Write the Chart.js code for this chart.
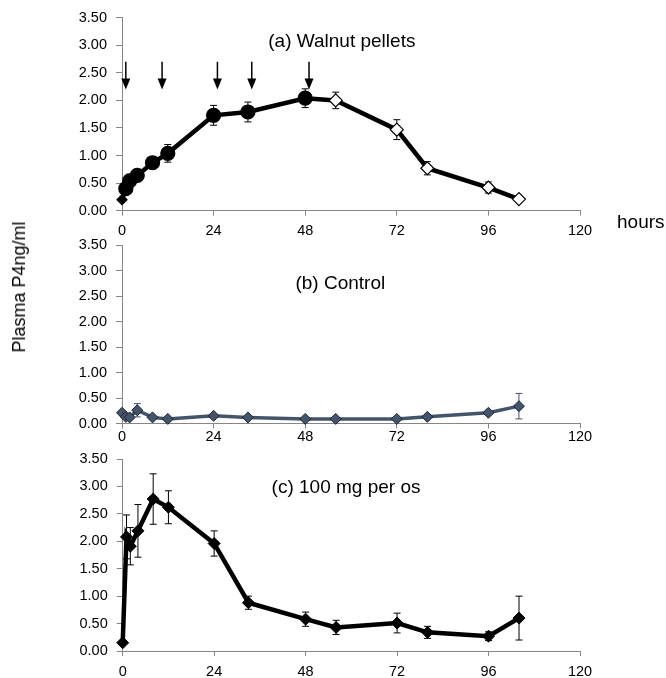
<!DOCTYPE html>
<html>
<head>
<meta charset="utf-8">
<script src="https://cdn.jsdelivr.net/npm/chart.js@4.4.0/dist/chart.umd.min.js"></script>
<style>
  body { margin: 0; background: #fff; }
  #wrap { position: relative; width: 666px; height: 678px; }
  #wrap canvas { position: absolute; left: 0; top: 0; }
  .lbl { position: absolute; font-family: "Liberation Sans", Arial, sans-serif; color: #000; white-space: nowrap; line-height: 1; }
</style>
</head>
<body>
<div id="wrap">
  <canvas id="chart-a" width="666" height="678"></canvas>
  <canvas id="chart-b" width="666" height="678"></canvas>
  <canvas id="chart-c" width="666" height="678"></canvas>
  <div class="lbl" id="ylabel" style="font-size:18px; left:18.5px; top:287px; transform:translate(-50%,-50%) rotate(-90deg);">Plasma P4ng/ml</div>
  <div class="lbl" style="font-size:19px; left:617px; top:212px;">hours</div>
</div>
<script>
// sampling times (hours) shared by the three panels
const hours = [0, 1, 2, 4, 8, 12, 24, 33, 48, 56, 72, 80, 96, 104];

// (a) walnut pellets
const walnutP4 = [0.20, 0.40, 0.54, 0.64, 0.87, 1.04, 1.73, 1.79, 2.04, 2.00, 1.47, 0.77, 0.42, 0.21];
const walnutSem = [0.02, 0.06, 0.12, 0.08, 0.07, 0.16, 0.18, 0.18, 0.17, 0.15, 0.18, 0.12, 0.10, 0.03];
// times of pellet feeding (arrows)
const pelletHours = [1, 10.5, 25, 34, 49];

// (b) control
const controlP4 = [0.21, 0.13, 0.12, 0.26, 0.12, 0.09, 0.15, 0.12, 0.09, 0.09, 0.09, 0.13, 0.21, 0.34];
const controlSem = [0.03, 0.03, 0.03, 0.13, 0.03, 0.02, 0.03, 0.03, 0.02, 0.02, 0.02, 0.03, 0.04, 0.25];

// (c) 100 mg per os
const oralP4 = [0.15, 2.08, 1.91, 2.19, 2.77, 2.62, 1.96, 0.88, 0.58, 0.43, 0.51, 0.34, 0.27, 0.60];
const oralSem = [0.02, 0.40, 0.34, 0.48, 0.46, 0.30, 0.23, 0.12, 0.13, 0.13, 0.18, 0.11, 0.08, 0.40];

const xTicks = [0, 24, 48, 72, 96, 120];
const yTicks = [0, 0.5, 1, 1.5, 2, 2.5, 3, 3.5];
const panelTitles = ['(a) Walnut pellets', '(b) Control', '(c) 100 mg per os'];

const FONT = '"Liberation Sans", Arial, sans-serif';
const AXIS = '#868686';
const X_AXIS_H = 27;

const errorBars = {
  id: 'errorBars',
  beforeDatasetsDraw(chart, args, opts) {
    if (!opts.sem) return;
    const ctx = chart.ctx, y = chart.scales.y;
    const pts = chart.getDatasetMeta(0).data;
    ctx.save();
    ctx.strokeStyle = opts.color;
    ctx.lineWidth = 1;
    pts.forEach((p, i) => {
      const v = chart.data.datasets[0].data[i].y, e = opts.sem[i];
      const top = y.getPixelForValue(v + e), bot = y.getPixelForValue(v - e);
      ctx.beginPath();
      ctx.moveTo(p.x, top); ctx.lineTo(p.x, bot);
      ctx.moveTo(p.x - 3.5, top); ctx.lineTo(p.x + 3.5, top);
      ctx.moveTo(p.x - 3.5, bot); ctx.lineTo(p.x + 3.5, bot);
      ctx.stroke();
    });
    ctx.restore();
  }
};

const arrows = {
  id: 'arrows',
  afterDatasetsDraw(chart, args, opts) {
    if (!opts.at) return;
    const ctx = chart.ctx, xs = chart.scales.x, ys = chart.scales.y;
    ctx.save();
    ctx.strokeStyle = '#000';
    ctx.fillStyle = '#000';
    ctx.lineWidth = 1.5;
    opts.at.forEach(h => {
      const x = xs.getPixelForValue(h);
      const y0 = ys.getPixelForValue(opts.from), y1 = ys.getPixelForValue(opts.to);
      ctx.beginPath();
      ctx.moveTo(x, y0); ctx.lineTo(x, y1 - 9);
      ctx.stroke();
      ctx.beginPath();
      ctx.moveTo(x - 4.5, y1 - 11); ctx.lineTo(x + 4.5, y1 - 11); ctx.lineTo(x, y1);
      ctx.closePath();
      ctx.fill();
    });
    ctx.restore();
  }
};

const panelTitle = {
  id: 'panelTitle',
  afterDatasetsDraw(chart, args, opts) {
    const ctx = chart.ctx;
    ctx.save();
    ctx.font = '19px ' + FONT;
    ctx.fillStyle = '#000';
    ctx.textAlign = 'center';
    ctx.textBaseline = 'middle';
    ctx.fillText(opts.text, chart.scales.x.getPixelForValue(opts.x), chart.scales.y.getPixelForValue(opts.y));
    ctx.restore();
  }
};

function panel(id, o) {
  return new Chart(document.getElementById(id), {
    type: 'line',
    data: {
      datasets: [{
        data: hours.map((h, i) => ({ x: h, y: o.values[i] })),
        borderColor: o.line,
        borderWidth: o.lineWidth,
        tension: 0,
        clip: false,
        pointStyle: o.styles,
        pointRadius: o.radii,
        pointBackgroundColor: o.fills,
        pointBorderColor: o.edge,
        pointBorderWidth: o.edgeWidth
      }]
    },
    options: {
      responsive: false,
      animation: false,
      events: [],
      layout: { padding: { left: 0, right: 86, top: o.top, bottom: Math.max(0, 678 - o.bottom - X_AXIS_H) } },
      plugins: {
        legend: { display: false },
        tooltip: { enabled: false },
        errorBars: { sem: o.sem, color: o.barColor },
        arrows: o.arrows || {},
        panelTitle: o.title
      },
      scales: {
        x: {
          type: 'linear', min: 0, max: 120,
          afterBuildTicks: s => { s.ticks = xTicks.map(v => ({ value: v })); },
          afterFit: s => { s.height = X_AXIS_H; },
          grid: { drawOnChartArea: false, color: AXIS, tickLength: 5 },
          border: { color: AXIS },
          ticks: { padding: o.xPad, color: '#000', font: { family: FONT, size: 14.5 }, maxRotation: 0, autoSkip: false }
        },
        y: {
          min: 0, max: 3.5,
          afterBuildTicks: s => { s.ticks = yTicks.map(v => ({ value: v })); },
          afterFit: s => { s.width = o.left; },
          grid: { drawOnChartArea: false, color: AXIS, tickLength: 6 },
          border: { color: AXIS },
          ticks: { padding: 9, color: '#000', font: { family: FONT, size: 14.5 }, callback: v => v.toFixed(2) }
        }
      }
    },
    plugins: [errorBars, arrows, panelTitle]
  });
}

// panel (a): first sample diamond, feeding period circles, after feeding open diamonds
const aStyles = hours.map((h, i) => i === 0 ? 'rectRot' : (h <= 48 ? 'circle' : 'rectRot'));
panel('chart-a', {
  values: walnutP4, sem: walnutSem, barColor: '#000',
  line: '#000', lineWidth: 4.5,
  styles: aStyles,
  radii: hours.map((h, i) => i === 0 ? 5 : (h <= 48 ? 7 : 6.5)),
  fills: hours.map((h, i) => (i === 0 || h <= 48) ? '#000' : '#fff'),
  edge: '#000', edgeWidth: 1.2,
  top: 17.3, bottom: 210.7, left: 122, xPad: 7,
  arrows: { at: pelletHours, from: 2.70, to: 2.20 },
  title: { text: panelTitles[0], x: 57.6, y: 3.06 }
});

panel('chart-b', {
  values: controlP4, sem: controlSem, barColor: '#44546A',
  line: '#44546A', lineWidth: 3.5,
  styles: 'rectRot', radii: 5.5, fills: '#44546A',
  edge: '#1b2430', edgeWidth: 1,
  top: 245, bottom: 423.5, left: 122, xPad: 0,
  title: { text: panelTitles[1], x: 57.2, y: 2.74 }
});

panel('chart-c', {
  values: oralP4, sem: oralSem, barColor: '#000',
  line: '#000', lineWidth: 4.5,
  styles: 'rectRot', radii: 6, fills: '#000',
  edge: '#000', edgeWidth: 1,
  top: 459, bottom: 651, left: 122.7, xPad: 7,
  title: { text: panelTitles[2], x: 58.6, y: 2.97 }
});
</script>
</body>
</html>
